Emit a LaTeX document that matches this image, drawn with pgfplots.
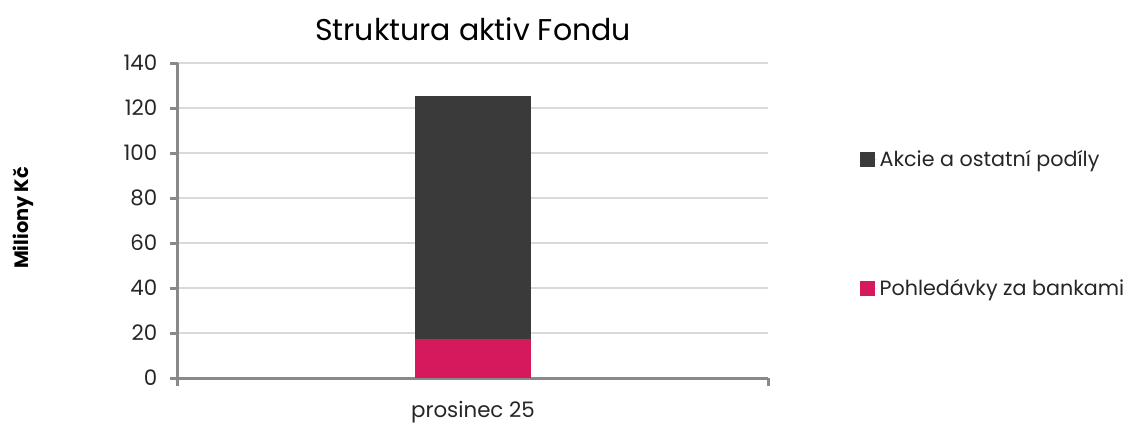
\documentclass[border=0pt]{standalone}
\usepackage{fontspec}
\setmainfont{Poppins}
\usepackage{pgfplots}
\pgfplotsset{compat=1.18}
\definecolor{darkbar}{HTML}{3A3A3A}
\definecolor{pinkbar}{HTML}{D6195C}
\definecolor{axisgray}{HTML}{898989}
\definecolor{gridgray}{HTML}{D9D9D9}
\definecolor{txt}{HTML}{262626}
\begin{document}
\begin{tikzpicture}[x=1pt,y=1pt]
\useasboundingbox (-133.5,-36) rectangle (720.75,283.5);
\begin{axis}[
  at={(0,0)}, anchor=south west,
  scale only axis, width=442.5pt, height=236.25pt,
  ymin=0, ymax=140, ytick={0,20,...,140},
  xmin=-0.5, xmax=0.5,
  xtick={-0.5,0.5}, xticklabels={,},
  extra x ticks={0}, extra x tick labels={prosinec 25},
  extra x tick style={major tick length=0pt, grid=none},
  ybar stacked, bar width=0.197,
  axis lines*=left,
  axis line style={axisgray, line width=2.25pt},
  tick align=outside, major tick length=6pt,
  tick style={axisgray, line width=2.25pt},
  ymajorgrids, grid style={gridgray, line width=1.1pt},
  yticklabel style={font=\fontsize{16}{18}\selectfont, text=txt, xshift=-6pt},
  xticklabel style={font=\fontsize{16}{18}\selectfont, text=txt, yshift=-14pt},
  /pgf/number format/assume math mode=true,
  title={Struktura aktiv Fondu},
  title style={font=\fontsize{22.5}{26}\selectfont, text=black, yshift=7pt},
  ylabel={Miliony Kč},
  ylabel style={font=\bfseries\fontsize{14.5}{17}\selectfont, text=black, at={(axis description cs:-0.262,0.508)}, anchor=center},
  legend style={at={(axis description cs:1.148,0.489)}, anchor=west, draw=none, fill=none, row sep=79pt, font=\fontsize{15.5}{18}\selectfont, text=txt},
  legend cell align=left,
  reverse legend,
  legend image code/.code={\fill[#1] (0pt,-5.6pt) rectangle (11.25pt,5.6pt); \path (0pt,0pt) -- (13pt,0pt);},
]
\addplot[fill=pinkbar, draw=none] coordinates {(0,17.5)};
\addlegendentry{Pohledávky za bankami}
\addplot[fill=darkbar, draw=none] coordinates {(0,108)};
\addlegendentry{Akcie a ostatní podíly}
\end{axis}
\end{tikzpicture}
\end{document}
